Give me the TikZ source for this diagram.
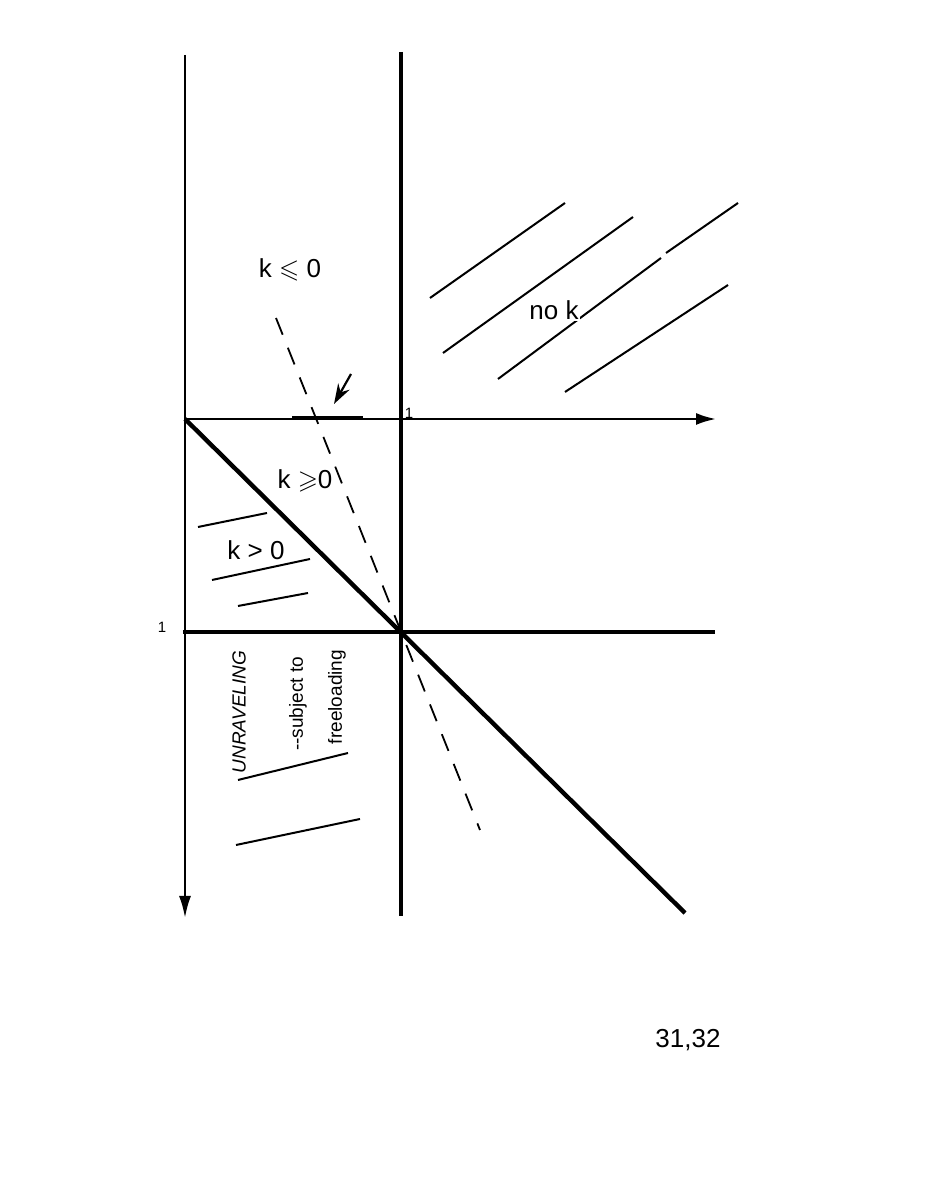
\documentclass[tikz,border=0pt]{standalone}
\usepackage{amssymb}
\usepackage{fontspec}
\setmainfont{Liberation Sans}
\usetikzlibrary{arrows.meta}
\begin{document}
\begin{tikzpicture}[x=1pt,y=1pt,
  thin line/.style={line width=2.4pt},
  thick line/.style={line width=4.4pt},
  hatch/.style={line width=2pt},
  dash line/.style={line width=1.8pt,dash pattern=on 18pt off 14pt},
  lab/.style={font=\fontsize{26}{28}\selectfont,inner sep=0pt},
  rot/.style={font=\fontsize{19}{21}\selectfont,inner sep=0pt,rotate=90},
  small/.style={font=\fontsize{15}{17}\selectfont,inner sep=0pt}]
\useasboundingbox (0,0) rectangle (924,1190);
% key points
\coordinate (O) at (185,771);
\coordinate (Ltop) at (185,1135);
\coordinate (Lbot) at (185,272);
\coordinate (Mtop) at (401,1138);
\coordinate (Mbot) at (401,274);
\coordinate (Hend) at (716,771);
\coordinate (P) at (401,558);
\coordinate (Tl) at (183,558);
\coordinate (Tr) at (715,558);
\coordinate (Dend) at (685,277);
\coordinate (Da) at (276,872);
\coordinate (Db) at (480,360);
\coordinate (Sa) at (292,772);
\coordinate (Sb) at (363,772);
\coordinate (Aa) at (351,816);
\coordinate (Ab) at (334,786);
% axes
\draw[thin line,-{Latex[length=22pt,width=12pt]}] (Ltop) -- (Lbot);
\draw[thin line,-{Latex[length=20pt,width=12pt]}] (O) -- (Hend);
\draw[line width=3.4pt] (Mtop) -- (Mbot);
\draw[thick line] (Tl) -- (Tr);
\draw[thick line] (O) -- (Dend);
\draw[dash line] (Da) -- (Db);
\draw[line width=4pt] (Sa) -- (Sb);
\draw[line width=2.2pt,-{Stealth[length=20pt,width=13pt]}] (Aa) -- (Ab);
% hatches
\coordinate (h1a) at (198,663); \coordinate (h1b) at (267,677);
\coordinate (h2a) at (212,610); \coordinate (h2b) at (310,631);
\coordinate (h3a) at (238,584); \coordinate (h3b) at (308,597);
\coordinate (h4a) at (238,410); \coordinate (h4b) at (348,437);
\coordinate (h5a) at (236,345); \coordinate (h5b) at (360,371);
\coordinate (h6a) at (430,892); \coordinate (h6b) at (565,987);
\coordinate (h7a) at (443,837); \coordinate (h7b) at (633,973);
\coordinate (h8a) at (498,811); \coordinate (h8b) at (661,932);
\coordinate (h9a) at (666,937); \coordinate (h9b) at (738,987);
\coordinate (h10a) at (565,798); \coordinate (h10b) at (728,905);
\foreach \i in {1,...,10} \draw[hatch] (h\i a) -- (h\i b);
% labels
\node[lab] (kle) at (290,920) {k $\leqslant$ 0};
\node[lab] (kge) at (305,709) {k $\geqslant$0};
\node[lab] (kgt) at (256,640) {k > 0};
\node[lab,fill=white,inner sep=1pt] (nok) at (554,880) {no k};
\node[small] (one1) at (409,777) {1};
\node[small] (one2) at (162,563) {1};
\node[lab] (page) at (688,150) {31,32};
\node[rot,font=\fontsize{19}{21}\selectfont\itshape] (unr) at (239,478) {UNRAVELING};
\node[rot] (subj) at (298,486) {-{}-subject to};
\node[rot] (free) at (337,493) {freeloading};
\end{tikzpicture}
\end{document}
